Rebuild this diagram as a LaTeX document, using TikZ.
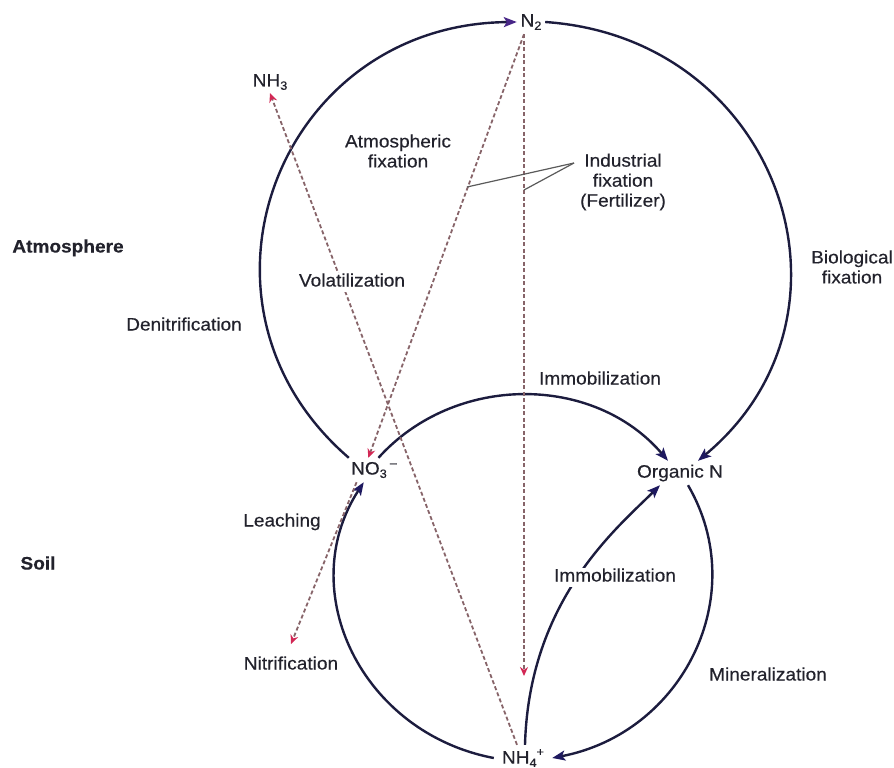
\documentclass[tikz,border=0pt]{standalone}
\usepackage{fontspec}
\setmainfont{Liberation Sans}[FakeStretch=1.06,FakeBold=0.35]
\usetikzlibrary{arrows.meta}
\definecolor{arcc}{RGB}{28,28,62}
\definecolor{tipc}{RGB}{30,25,95}
\definecolor{tipn}{RGB}{72,38,135}
\definecolor{dashc}{RGB}{135,100,105}
\definecolor{redtip}{RGB}{210,40,85}
\definecolor{ptrc}{RGB}{90,90,90}
\definecolor{txt}{RGB}{34,34,44}
\newcommand\sbs[1]{\raisebox{-0.35ex}{\fontsize{12}{12}\selectfont #1}}
\newcommand\sps[1]{\raisebox{0.8ex}{\fontsize{12}{12}\selectfont #1}}
\begin{document}
\begin{tikzpicture}[x=1pt,y=-1pt,
  lbl/.style={font=\fontsize{18}{20}\selectfont, text=txt, inner sep=1pt, text height=13pt, text depth=4pt},
  mlbl/.style={font=\fontsize{18}{20}\selectfont, text=txt, align=center, inner sep=1pt},
  chem/.style={font=\fontsize{18}{20}\selectfont, text=txt, inner sep=0pt},
  cyc/.style={draw=arcc, line width=2.4pt, -{Stealth[length=13pt,width=10pt,inset=3pt,color=tipc]}},
  flux/.style={draw=dashc, line width=1.8pt, dash pattern=on 4pt off 2.5pt, -{Stealth[length=9pt,width=8pt,color=redtip]}},
  ptr/.style={draw=ptrc, line width=1.2pt}]
\useasboundingbox (0,0) rectangle (894,768);

% chemical species
\node[chem, minimum width=28pt, minimum height=24pt] (n2) at (531,22) {N\sbs{2}};
\node[chem, minimum width=36pt, minimum height=22pt] (nh3) at (270,82) {NH\sbs{3}};
\node[chem, minimum width=50pt, minimum height=24pt] (no3) at (374,470) {NO\sbs{3}\,\sps{--}};
\node[chem, minimum width=90pt, minimum height=24pt] (orgN) at (680,473) {Organic N};
\node[chem, minimum width=58pt, minimum height=26pt] (nh4) at (523,758) {NH\sbs{4}\sps{+}};

% free ends
\coordinate (fert) at (524,676);
\coordinate (leach) at (291,644);
\coordinate (apex) at (574,163);
\coordinate (pA) at (467,187);
\coordinate (pB) at (524,190);

% big cycle
\draw[cyc, -{Stealth[length=13pt,width=10pt,inset=3pt,color=tipn]}] (no3.north west) .. controls (171,304.5) and (278,24) .. (n2.west);
\draw[cyc] (n2.east) .. controls (780,38) and (874,314.5) .. ([xshift=18pt]orgN.north);
% small cycle
\draw[cyc] (no3.70) .. controls (455,373) and (594,374) .. ([xshift=-12pt]orgN.north);
\draw[cyc] ([xshift=8pt]orgN.south) .. controls (752,595) and (683,733) .. (nh4.east);
\draw[cyc] (nh4.west) .. controls (362,733) and (293,591) .. (no3.-130);
\draw[cyc] ([xshift=2pt]nh4.north) .. controls (529,600) and (617,528) .. ([xshift=-20pt]orgN.south);

% dashed fluxes
\draw[flux] ([xshift=-7pt]n2.south) -- (no3.115);
\draw[flux] ([xshift=-7pt]n2.south) -- (fert);
\draw[flux] ([xshift=-6pt]nh4.north) -- (nh3.south);
\draw[flux] (no3.-145) -- (leach);

% pointer of industrial fixation
\draw[ptr] (apex) -- (pA);
\draw[ptr] (apex) -- (pB);

% labels
\node[mlbl] (atmfix) at (398,151) {Atmospheric\\fixation};
\node[mlbl] (ind) at (623,182) {Industrial\\fixation\\(Fertilizer)};
\node[lbl, font=\fontsize{18}{20}\selectfont\bfseries] (atmo) at (68,248) {Atmosphere};
\node[lbl, fill=white] (vol) at (352,282) {Volatilization};
\node[mlbl] (bio) at (852,267) {Biological\\fixation};
\node[lbl] (den) at (184,326) {Denitrification};
\node[lbl] (imm1) at (600,380) {Immobilization};
\node[lbl] (lea) at (282,522) {Leaching};
\node[lbl, font=\fontsize{18}{20}\selectfont\bfseries] (soil) at (38,565) {Soil};
\node[lbl, fill=white] (imm2) at (615,577) {Immobilization};
\node[lbl] (nit) at (291,665) {Nitrification};
\node[lbl] (min) at (768,676) {Mineralization};
\end{tikzpicture}
\end{document}
